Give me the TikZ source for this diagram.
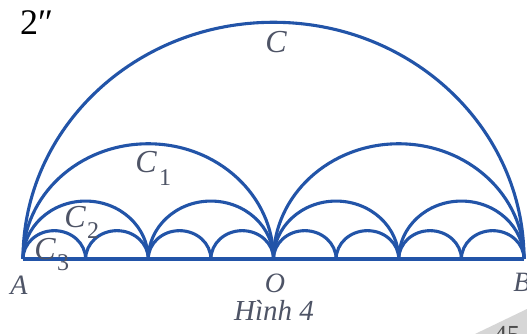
\documentclass[tikz,border=0pt]{standalone}
\usepackage{fontspec}
\setmainfont{Liberation Serif}
\definecolor{figblue}{RGB}{34,84,168}
\definecolor{lblgray}{RGB}{78,84,102}
\begin{document}
\begin{tikzpicture}[x=1pt,y=-1pt,
  arcline/.style={line width=3.1pt, draw=figblue},
  baseline/.style={line width=4pt, draw=figblue},
  ptlbl/.style={text=lblgray, font=\itshape\fontsize{28}{28}\selectfont, inner sep=0pt},
  clbl/.style={text=lblgray, font=\itshape\fontsize{32}{32}\selectfont, inner sep=0pt},
  sublbl/.style={text=lblgray, font=\fontsize{24}{24}\selectfont, inner sep=0pt}]
\useasboundingbox (0,0) rectangle (527,334);
\fill[white] (0,0) rectangle (527,334);
% page-corner artefact
\fill[black!16] (475,334) -- (527,309) -- (527,334) -- cycle;
\node[anchor=north west, inner sep=0pt, text=black!70, font=\fontsize{26}{26}\selectfont] (pg) at (494,326) {45};
% points
\coordinate (A) at (23,259);
\coordinate (O) at (273.5,259);
\coordinate (B) at (524,259);
% semicircles C, C1, C2, C3
\foreach \n/\k in {1/0.945,2/0.92,4/0.925,8/0.905}{
  \pgfmathsetmacro\r{250.5/\n}
  \foreach \i in {1,...,\n}{
    \pgfmathsetmacro\xs{23+2*\r*(\i-1)}
    \draw[arcline] (\xs,259) arc[start angle=180,end angle=360,x radius=\r,y radius=\k*\r];
  }
}
\draw[baseline] (A) -- (B);
% labels
\node[clbl] (lc) at (276,42) {C};
\node[clbl] (lc1) at (146,162) {C};
\node[sublbl] (lc1s) at (165,178) {1};
\node[clbl] (lc2) at (75,217) {C};
\node[sublbl] (lc2s) at (93,231) {2};
\node[clbl] (lc3) at (45,249) {C};
\node[sublbl] (lc3s) at (63,263) {3};
\node[ptlbl] (la) at (19,285) {A};
\node[ptlbl] (lo) at (275,283) {O};
\node[ptlbl] (lb) at (522,282) {B};
\node[ptlbl, font=\itshape\fontsize{29}{29}\selectfont] (cap) at (274,310) {Hình 4};
\node[anchor=north west, inner sep=0pt, font=\fontsize{36}{36}\selectfont] (num) at (20,10) {2″};
\end{tikzpicture}
\end{document}
